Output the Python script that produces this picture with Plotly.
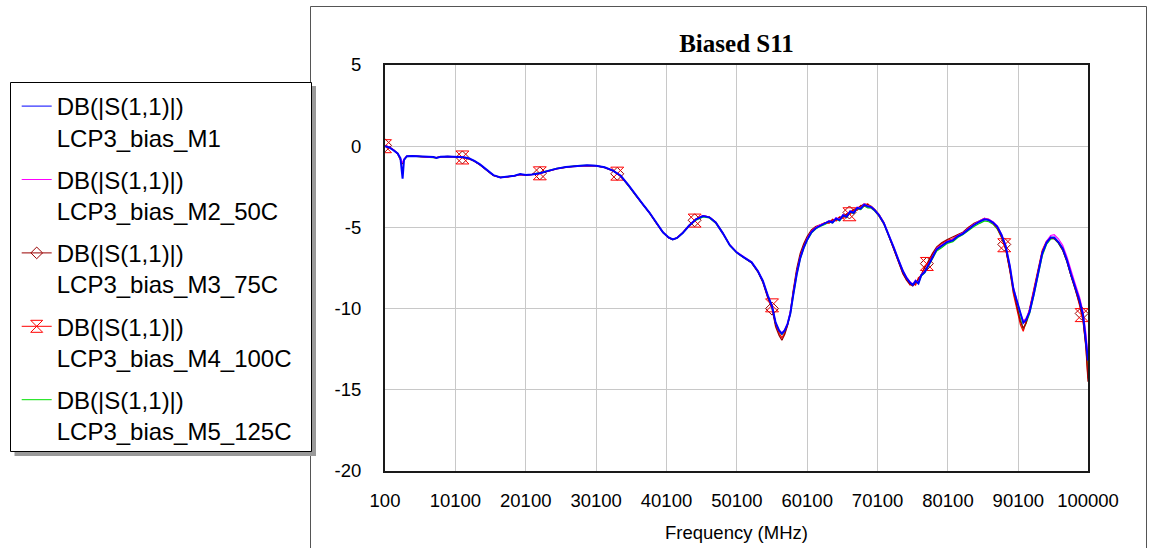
import numpy as np
import plotly.graph_objects as go

# ---------------- data (frequency in MHz, S11 in dB) ----------------
FREQ = [
    100, 700, 1300, 1900, 2300, 2600, 2800, 3200, 4000, 5000, 6000, 7000, 7400, 8000, 9000, 10100,
    11300, 12100, 12800, 13600, 14600, 15500, 16500, 17500, 18500, 19300, 20100, 21000, 22100, 23300,
    24500, 25800, 27300, 28800, 30100, 31300, 32500, 33600, 34700, 35700, 36700, 37700, 38700, 39600,
    40400, 41000, 41600, 42400, 43300, 44300, 45300, 46200, 47100, 48100, 49100, 50100, 51100, 52200,
    53100, 53800, 54500, 55100, 55600, 56100, 56500, 56900, 57300, 57700, 58100, 58600, 59100, 59600,
    60100, 60700, 61300, 62000, 62600, 63200, 63700, 64200, 64700, 65200, 65700, 66200, 66700, 67200,
    67700, 68200, 68700, 69200, 69700, 70300, 71000, 71700, 72400, 73100, 73700, 74200, 74700, 75100,
    75500, 75900, 76300, 76800, 77300, 77900, 78500, 79200, 80000, 80800, 81500, 82200, 83000, 83800,
    84600, 85300, 85900, 86500, 87100, 87700, 88300, 88900, 89400, 89900, 90400, 90800, 91200, 91700,
    92300, 92900, 93500, 94100, 94700, 95200, 95800, 96400, 97000, 97600, 98200, 98800, 99300, 99700,
    100000,
]

M1 = [
    0.0, -0.08, -0.25, -0.45, -0.75, -2.0, -0.85, -0.62, -0.6, -0.63, -0.64, -0.66, -0.72, -0.65, -0.63, -0.64,
    -0.68, -0.76, -0.9, -1.12, -1.48, -1.78, -1.92, -1.88, -1.82, -1.72, -1.78, -1.74, -1.66, -1.52,
    -1.38, -1.28, -1.21, -1.18, -1.2, -1.3, -1.5, -1.82, -2.4, -3.0, -3.55, -4.1, -4.75, -5.3,
    -5.62, -5.74, -5.65, -5.35, -4.9, -4.5, -4.3, -4.38, -4.7, -5.35, -6.1, -6.55, -6.85, -7.15,
    -7.7, -8.3, -9.2, -9.85, -10.85, -11.35, -11.55, -11.35, -10.95, -10.3, -9.2, -7.9, -6.9, -6.25,
    -5.75, -5.3, -5.05, -4.88, -4.78, -4.62, -4.7, -4.45, -4.55, -4.25, -4.35, -4.02, -4.1, -3.8,
    -3.85, -3.6, -3.72, -3.75, -3.95, -4.25, -4.75, -5.45, -6.25, -7.05, -7.7, -8.1, -8.4, -8.55,
    -8.3, -8.45, -7.95, -7.75, -7.3, -6.85, -6.35, -6.15, -5.9, -5.8, -5.55, -5.4, -5.1, -4.85,
    -4.65, -4.5, -4.55, -4.7, -4.95, -5.45, -6.15, -7.4, -8.8, -9.6, -10.4, -10.88, -10.7, -10.2,
    -9.1, -7.9, -6.6, -5.95, -5.62, -5.62, -5.9, -6.3, -7.0, -7.9, -8.7, -9.5, -10.4, -11.8,
    -13.2,
]

M2 = [
    0.02, -0.06, -0.22, -0.44, -0.78, -1.0, -0.8, -0.62, -0.6, -0.63, -0.64, -0.66, -0.71, -0.65, -0.63, -0.64,
    -0.69, -0.77, -0.91, -1.13, -1.49, -1.79, -1.93, -1.89, -1.82, -1.73, -1.78, -1.74, -1.66, -1.52,
    -1.38, -1.28, -1.21, -1.18, -1.2, -1.3, -1.5, -1.82, -2.4, -3.0, -3.55, -4.1, -4.75, -5.3,
    -5.62, -5.74, -5.64, -5.34, -4.88, -4.48, -4.28, -4.36, -4.7, -5.35, -6.08, -6.52, -6.83, -7.13,
    -7.68, -8.28, -9.18, -9.85, -10.85, -11.35, -11.5, -11.3, -10.9, -10.2, -9.1, -7.8, -6.85, -6.2,
    -5.7, -5.25, -5.0, -4.83, -4.75, -4.58, -4.65, -4.4, -4.5, -4.2, -4.3, -3.98, -4.05, -3.75,
    -3.8, -3.55, -3.68, -3.72, -3.92, -4.22, -4.72, -5.42, -6.2, -7.0, -7.65, -8.05, -8.35, -8.5,
    -8.25, -8.4, -7.9, -7.7, -7.25, -6.8, -6.3, -6.1, -5.85, -5.75, -5.5, -5.35, -5.05, -4.8,
    -4.6, -4.45, -4.5, -4.65, -4.9, -5.4, -6.1, -7.35, -8.7, -9.6, -10.3, -10.75, -10.6, -10.1,
    -9.0, -7.8, -6.55, -5.85, -5.5, -5.45, -5.7, -6.1, -6.8, -7.7, -8.5, -9.3, -10.2, -11.5,
    -13.0,
]

M3 = [
    0.05, -0.05, -0.22, -0.45, -0.85, -1.1, -0.8, -0.62, -0.6, -0.63, -0.65, -0.66, -0.7, -0.66, -0.63, -0.65,
    -0.7, -0.78, -0.92, -1.15, -1.5, -1.8, -1.93, -1.9, -1.83, -1.75, -1.78, -1.74, -1.67, -1.54,
    -1.4, -1.3, -1.22, -1.19, -1.22, -1.32, -1.52, -1.85, -2.42, -3.02, -3.57, -4.12, -4.77, -5.32,
    -5.63, -5.75, -5.64, -5.33, -4.88, -4.48, -4.28, -4.36, -4.68, -5.33, -6.1, -6.55, -6.86, -7.18,
    -7.75, -8.4, -9.35, -10.0, -11.1, -11.65, -11.95, -11.6, -11.05, -10.2, -8.9, -7.55, -6.6, -6.0,
    -5.55, -5.15, -4.95, -4.82, -4.72, -4.6, -4.55, -4.5, -4.4, -4.3, -4.2, -4.05, -3.9, -3.82,
    -3.7, -3.55, -3.6, -3.7, -3.9, -4.2, -4.7, -5.5, -6.35, -7.2, -7.85, -8.25, -8.5, -8.6,
    -8.4, -8.2, -7.9, -7.5, -7.05, -6.6, -6.2, -5.95, -5.75, -5.6, -5.45, -5.3, -5.0, -4.75,
    -4.6, -4.45, -4.5, -4.7, -5.0, -5.55, -6.3, -7.6, -8.9, -9.9, -10.8, -11.2, -10.9, -10.1,
    -8.9, -7.7, -6.5, -5.9, -5.65, -5.68, -5.95, -6.4, -7.1, -8.0, -8.8, -9.7, -10.7, -12.4,
    -14.5,
]

M4 = [
    0.0, -0.06, -0.24, -0.46, -0.8, -1.05, -0.82, -0.63, -0.61, -0.64, -0.65, -0.67, -0.7, -0.66, -0.64, -0.66,
    -0.7, -0.78, -0.92, -1.14, -1.5, -1.8, -1.92, -1.9, -1.83, -1.74, -1.79, -1.75, -1.67, -1.53,
    -1.39, -1.29, -1.22, -1.19, -1.21, -1.31, -1.51, -1.84, -2.42, -3.02, -3.56, -4.12, -4.77, -5.31,
    -5.63, -5.75, -5.64, -5.34, -4.9, -4.5, -4.3, -4.37, -4.7, -5.35, -6.1, -6.55, -6.86, -7.17,
    -7.72, -8.35, -9.3, -9.8, -10.95, -11.5, -11.8, -11.5, -11.0, -10.3, -9.0, -7.7, -6.75, -6.1,
    -5.65, -5.2, -5.0, -4.85, -4.7, -4.75, -4.5, -4.6, -4.35, -4.45, -4.15, -4.2, -3.9, -3.95,
    -3.65, -3.7, -3.55, -3.8, -3.95, -4.3, -4.8, -5.55, -6.4, -7.2, -7.85, -8.2, -8.55, -8.45,
    -8.55, -8.1, -8.0, -7.4, -7.15, -6.65, -6.3, -6.0, -5.8, -5.7, -5.45, -5.35, -5.0, -4.8,
    -4.6, -4.45, -4.55, -4.75, -5.05, -5.6, -6.35, -7.7, -9.1, -10.0, -11.0, -11.4, -10.8, -10.0,
    -8.8, -7.6, -6.4, -5.85, -5.6, -5.7, -5.9, -6.35, -7.05, -8.0, -8.8, -9.8, -10.8, -12.3,
    -14.3,
]

M5 = [
    0.0, -0.07, -0.24, -0.46, -0.8, -1.05, -0.84, -0.64, -0.61, -0.64, -0.65, -0.67, -0.72, -0.66, -0.64, -0.65,
    -0.7, -0.78, -0.92, -1.14, -1.5, -1.8, -1.92, -1.89, -1.82, -1.73, -1.77, -1.73, -1.64, -1.5,
    -1.37, -1.27, -1.2, -1.18, -1.2, -1.3, -1.5, -1.83, -2.41, -3.01, -3.56, -4.11, -4.76, -5.31,
    -5.63, -5.75, -5.66, -5.37, -4.92, -4.55, -4.35, -4.42, -4.74, -5.38, -6.12, -6.57, -6.87, -7.17,
    -7.72, -8.32, -9.22, -9.9, -10.9, -11.4, -11.6, -11.4, -11.0, -10.35, -9.25, -7.95, -6.95, -6.3,
    -5.8, -5.35, -5.1, -4.92, -4.82, -4.68, -4.72, -4.5, -4.6, -4.3, -4.4, -4.08, -4.15, -3.87,
    -3.9, -3.68, -3.8, -3.82, -4.0, -4.3, -4.8, -5.5, -6.3, -7.1, -7.72, -8.12, -8.42, -8.55,
    -8.35, -8.45, -8.0, -7.8, -7.4, -6.95, -6.45, -6.25, -5.98, -5.88, -5.62, -5.45, -5.18, -4.95,
    -4.75, -4.6, -4.65, -4.8, -5.1, -5.6, -6.3, -7.6, -9.0, -9.8, -10.7, -11.3, -10.9, -10.3,
    -9.2, -8.0, -6.75, -6.05, -5.72, -5.7, -5.98, -6.4, -7.1, -8.0, -8.8, -9.6, -10.5, -12.0,
    -13.9,
]

MARKER_FREQ = [100, 11100, 22100, 33100, 44100, 55100, 66100, 77100, 88100, 99100]

X_TICKS = [100, 10100, 20100, 30100, 40100, 50100, 60100, 70100, 80100, 90100, 100000]
Y_TICKS = [-20, -15, -10, -5, 0, 5]

LEGEND_HEAD = "DB(|S(1,1)|)"
NAMES = ["LCP3_bias_M1", "LCP3_bias_M2_50C", "LCP3_bias_M3_75C", "LCP3_bias_M4_100C", "LCP3_bias_M5_125C"]
COLORS = ["#0000FF", "#FF00FF", "#990000", "#FF0000", "#00E000"]

# ---------------- layout geometry ----------------
W, H = 1149, 548
ML, MR, MT, MB = 385, 61, 65, 77
PW, PH = W - ML - MR, H - MT - MB


def px_x(p):
    return (p - ML) / PW


def px_y(p):
    return (H - MB - p) / PH


SANS = "Liberation Sans, Arial, sans-serif"
SERIF = "Liberation Serif, Times New Roman, serif"

fig = go.Figure()
series = [M1, M2, M3, M4, M5]
sym = {2: "diamond-open", 3: "hourglass-open"}
msize = {2: 10, 3: 13}


def label(i):
    return LEGEND_HEAD + "<br>" + NAMES[i]


# lines (green first, blue last on top)
for i in [4, 3, 2, 1]:
    fig.add_trace(go.Scatter(
        x=FREQ, y=series[i], mode="lines",
        line=dict(color=COLORS[i], width=1.2),
        legendgroup=f"g{i}", showlegend=False, hoverinfo="skip",
    ))

# markers for M3 (diamond) and M4 (hourglass)
for i in [2, 3]:
    my = np.interp(MARKER_FREQ, FREQ, series[i])
    fig.add_trace(go.Scatter(
        x=MARKER_FREQ, y=my, mode="markers",
        marker=dict(symbol=sym[i], size=msize[i], color=COLORS[i], line=dict(color=COLORS[i], width=1)),
        legendgroup=f"g{i}", showlegend=False, hoverinfo="skip",
    ))

fig.add_trace(go.Scatter(
    x=FREQ, y=M1, mode="lines",
    line=dict(color=COLORS[0], width=2),
    legendgroup="g0", showlegend=False, hoverinfo="skip",
))

# legend entries
for i in range(5):
    if i in sym:
        fig.add_trace(go.Scatter(
            x=[None], y=[None], mode="lines+markers",
            line=dict(color=COLORS[i], width=1),
            marker=dict(symbol=sym[i], size=msize[i] - 1, color=COLORS[i], line=dict(color=COLORS[i], width=1)),
            name=label(i), legendgroup=f"g{i}", legendrank=i + 1,
        ))
    else:
        fig.add_trace(go.Scatter(
            x=[None], y=[None], mode="lines",
            line=dict(color=COLORS[i], width=1),
            name=label(i), legendgroup=f"g{i}", legendrank=i + 1,
        ))

shapes = [
    # outer chart frame
    dict(type="rect", xref="paper", yref="paper",
         x0=px_x(310.5), x1=px_x(1146.5), y0=px_y(6.5), y1=px_y(560),
         line=dict(color="#555555", width=1), fillcolor="rgba(0,0,0,0)", layer="below"),
    # legend shadow
    dict(type="rect", xref="paper", yref="paper",
         x0=px_x(14.5), x1=px_x(316), y0=px_y(86), y1=px_y(456),
         line=dict(width=0), fillcolor="#9a9a9a", layer="above"),
    # legend box
    dict(type="rect", xref="paper", yref="paper",
         x0=px_x(10.5), x1=px_x(311.5), y0=px_y(82.5), y1=px_y(451.5),
         line=dict(color="#000000", width=1), fillcolor="#FFFFFF", layer="above"),
]

fig.update_layout(
    width=W, height=H,
    margin=dict(l=ML, r=MR, t=MT, b=MB, pad=0, autoexpand=False),
    paper_bgcolor="white", plot_bgcolor="white",
    title=dict(text="<b>Biased S11</b>", x=0.5, xref="paper", xanchor="center",
               y=1 - 43 / H, yref="container", yanchor="middle",
               font=dict(family=SERIF, size=25, color="black")),
    showlegend=True,
    legend=dict(
        xref="container", yref="container",
        x=16.7 / W, y=1 - 84 / H, xanchor="left", yanchor="top",
        bgcolor="rgba(0,0,0,0)", borderwidth=0,
        font=dict(family=SANS, size=24, color="black"),
        tracegroupgap=8, valign="top", itemwidth=30,
        traceorder="grouped", maxheight=520,
    ),
    shapes=shapes,
    font=dict(family=SANS, color="black"),
)

fig.update_xaxes(
    range=[100, 100000], tickmode="array", tickvals=X_TICKS, ticktext=[str(v) for v in X_TICKS],
    showgrid=True, gridcolor="#C8C8C8", gridwidth=1, zeroline=False,
    showline=True, mirror=True, linecolor="#1a1a1a", linewidth=2,
    ticks="outside", ticklen=12, tickcolor="rgba(0,0,0,0)",
    tickfont=dict(family=SANS, size=18.5, color="black"), automargin=False,
    title=dict(text="Frequency (MHz)", font=dict(family=SANS, size=18.5, color="black"), standoff=16),
)
fig.update_yaxes(
    range=[-20, 5], tickmode="array", tickvals=Y_TICKS, ticktext=[str(v) for v in Y_TICKS],
    showgrid=True, gridcolor="#C8C8C8", gridwidth=1, zeroline=False,
    showline=True, mirror=True, linecolor="#1a1a1a", linewidth=2,
    ticks="outside", ticklen=18, tickcolor="rgba(0,0,0,0)",
    tickfont=dict(family=SANS, size=18.5, color="black"), automargin=False,
)

fig.write_html("out.html")
